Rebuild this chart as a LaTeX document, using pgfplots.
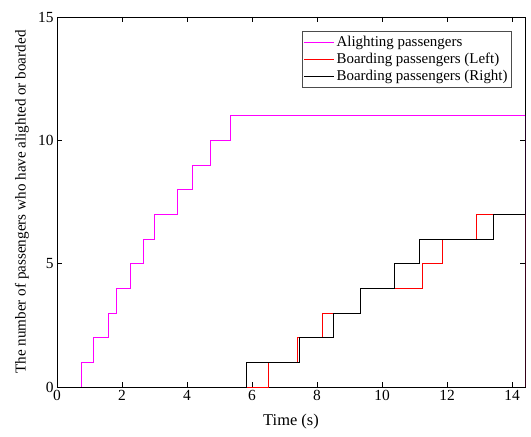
\documentclass[border=0pt]{standalone}
\usepackage{fontspec}
\setmainfont{Liberation Serif}
\usepackage{pgfplots}
\pgfplotsset{compat=1.18}
\usetikzlibrary{calc}
\begin{document}
\begin{tikzpicture}
\begin{axis}[
  name=main,
  scale only axis,
  width=468bp, height=370bp,
  xmin=0, xmax=14.4, ymin=0, ymax=15,
  xtick={0,2,...,14}, ytick={0,5,10,15},
  tick align=inside,
  major tick length=5bp,
  /pgf/number format/assume math mode=true,
  tick label style={font=\fontsize{15.5}{17}\selectfont},
  xlabel={Time (s)},
  ylabel={The number of passengers who have alighted or boarded},
  xlabel style={at={(rel axis cs:0.5,0)}, anchor=center, yshift=-35bp, font=\fontsize{16.5}{18}\selectfont},
  ylabel style={at={(rel axis cs:0,0.5)}, anchor=center, yshift=35bp, font=\fontsize{15.2}{17}\selectfont},
  axis line style={line width=0.7bp},
  every tick/.style={line width=0.7bp, black},
  legend style={at={(rel axis cs:0.972,0.962)}, anchor=north east,
    font=\fontsize{15}{17}\selectfont, draw=black!70, line width=0.6bp,
    inner xsep=2bp, inner ysep=3bp, row sep=1bp, legend cell align=left},
  legend image code/.code={\draw[#1] (0bp,0bp) -- (30bp,0bp);},
]
\addplot[const plot, color={rgb,1:red,1;green,0;blue,1}, line width=0.6bp] coordinates {
(0,0) (0.76,1) (1.13,2) (1.57,3) (1.81,4) (2.24,5) (2.65,6) (3.00,7) (3.71,8) (4.15,9) (4.72,10) (5.33,11) (14.4,11) (14.4,0)};
\addlegendentry{Alighting passengers}
\addplot[const plot, color=red, line width=0.6bp] coordinates {
(0,0) (6.50,1) (7.40,2) (8.17,3) (9.34,4) (11.24,5) (11.87,6) (12.89,7) (14.4,7) (14.4,0)};
\addlegendentry{Boarding passengers (Left)}
\addplot[const plot, color=black, line width=0.6bp] coordinates {
(0,0) (5.82,1) (7.47,2) (8.51,3) (9.34,4) (10.38,5) (11.16,6) (13.41,7) (14.4,7) (14.4,8) (14.4,0)};
\addlegendentry{Boarding passengers (Right)}
\end{axis}
\path ($(main.south west)+(-57bp,-50bp)$) rectangle ($(main.north east)+(6bp,17bp)$);
\end{tikzpicture}
\end{document}
